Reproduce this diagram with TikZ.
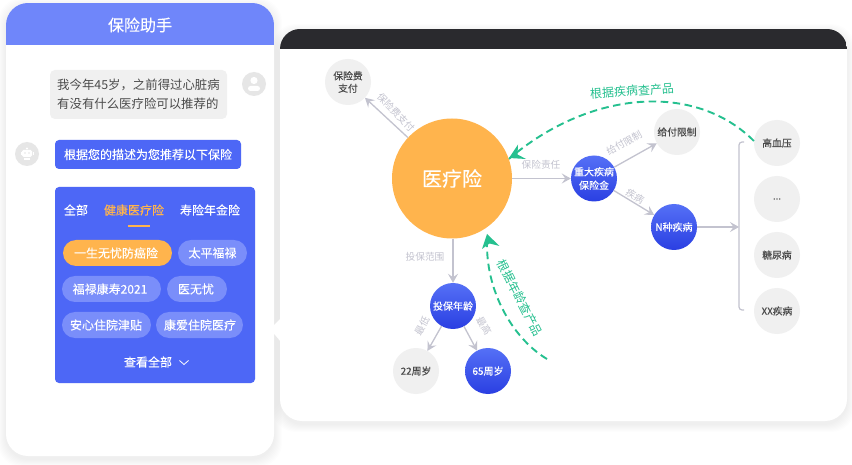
\documentclass[tikz,border=0pt]{standalone}
\usepackage{fontspec}
\setmainfont{Noto Sans CJK SC}
\newfontfamily\medfont[FakeBold=0.25]{Noto Sans CJK SC}
\usetikzlibrary{arrows.meta}
\definecolor{hdr}{HTML}{6F86FA}
\definecolor{cardblue}{HTML}{4D67F6}
\definecolor{pillblue}{HTML}{7A8EFA}
\definecolor{orng}{HTML}{FFB44D}
\definecolor{pale}{HTML}{F0F0F0}
\definecolor{avatar}{HTML}{E6E6E6}
\definecolor{gline}{HTML}{C3C3CF}
\definecolor{grn}{HTML}{25C08F}
\definecolor{dark}{HTML}{2A2A2E}
\definecolor{txt}{HTML}{4A4A4A}
\definecolor{bluetop}{HTML}{5570F6}
\definecolor{bluebot}{HTML}{2A3FE2}
\tikzset{
  x=1pt,y=-1pt,
  pilltext/.style={font=\medfont\fontsize{12}{12}\selectfont,text=white,inner sep=0pt},
  pale node/.style={circle,fill=pale,minimum size=46pt,inner sep=0pt,align=center,text=txt,font=\medfont\fontsize{9.8}{12.5}\selectfont},
  blue node/.style={circle,minimum size=46pt,inner sep=0pt,align=center,text=white,top color=bluetop,bottom color=bluebot,font=\medfont\fontsize{10}{13.5}\selectfont},
  link/.style={draw=gline,line width=1.3pt,-{Stealth[length=9pt,width=10pt,inset=3.5pt]}},
  linklabel/.style={text=gline,font=\fontsize{9.7}{11}\selectfont,inner sep=0pt},
  greenlink/.style={draw=grn,line width=1.9pt,dash pattern=on 7.5pt off 4.5pt},
  greenlabel/.style={text=grn,font=\fontsize{12}{12}\selectfont,inner sep=0pt},
  avatarnode/.style={circle,fill=avatar,minimum size=24pt,inner sep=0pt},
}
\begin{document}
\begin{tikzpicture}
\useasboundingbox (0,0) rectangle (852,465);
\fill[white] (0,0) rectangle (852,465);
% soft shadows
\foreach \d in {1,2,...,8}{
  \fill[black,opacity=.007,rounded corners=24pt] ({6-\d},{3-\d+3}) rectangle ({274+\d},{456+\d+3});
  \fill[black,opacity=.007,rounded corners=24pt] ({280-\d},{29-\d+3}) rectangle ({847+\d},{421+\d+3});
}
% left panel
\fill[white,rounded corners=22pt] (6,3) rectangle (274,456);
\begin{scope}
  \clip[rounded corners=22pt] (6,3) rectangle (274,456);
  \fill[hdr] (6,3) rectangle (274,45);
\end{scope}
% right panel
\fill[white,rounded corners=22pt] (280,29) rectangle (847,421);
\begin{scope}
  \clip[rounded corners=20pt] (280,29) rectangle (847,421);
  \fill[dark] (280,29) rectangle (847,49);
\end{scope}
\fill[white] (270,329) -- (281,318) -- (281,342) -- cycle;
\node[text=white,font=\medfont\fontsize{16}{16}\selectfont,inner sep=0pt] (title) at (140,25) {保险助手};
% chat
\node[fill=pale,rounded corners=5pt,minimum width=177pt,minimum height=49pt,inner sep=0pt,align=left,text=txt,font=\fontsize{12.4}{18.5}\selectfont] (ask) at (138.5,94.5) {我今年45岁，之前得过心脏病\\有没有什么医疗险可以推荐的};
\node[avatarnode] (user) at (254,84) {};
\fill[white] (254,80.5) circle (3.6pt);
\fill[white,rounded corners=2.5pt] (248,86) rectangle (260,91);
\node[avatarnode] (bot) at (27,154) {};
\fill[white,rounded corners=1.5pt] (22,150) rectangle (32,157);
\fill[white] (27,148.5) circle (1.2pt);
\fill[white] (24,158) rectangle (30,160);
\fill[white] (20.5,152) rectangle (21.5,155);
\fill[white] (32.5,152) rectangle (33.5,155);
\fill[avatar] (25,153) circle (.8pt) (29,153) circle (.8pt);
\node[fill=cardblue,rounded corners=4pt,minimum width=186pt,minimum height=29pt,inner sep=0pt,text=white,font=\medfont\fontsize{12}{12}\selectfont] (reply) at (148,154.5) {根据您的描述为您推荐以下保险};
% card
\fill[cardblue,rounded corners=4pt] (55,187) rectangle (255,383);
\node[pilltext] (t1) at (76,210) {全部};
\node[pilltext,text=orng] (t2) at (134,210) {健康医疗险};
\node[pilltext] (t3) at (210,210) {寿险年金险};
\fill[orng] (128,225.2) rectangle (150,227);
\fill[orng,rounded corners=13pt] (63,240) rectangle (172,266);
\fill[pillblue,rounded corners=13pt] (178,240) rectangle (247,266);
\fill[pillblue,rounded corners=13pt] (62,276) rectangle (161,302);
\fill[pillblue,rounded corners=13pt] (167,276) rectangle (227,302);
\fill[pillblue,rounded corners=13pt] (62,312) rectangle (151,338);
\fill[pillblue,rounded corners=13pt] (156,312) rectangle (243,338);
\node[pilltext] (p1) at (116,253) {一生无忧防癌险};
\node[pilltext] (p2) at (212.5,253) {太平福禄};
\node[pilltext] (p3) at (110,289) {福禄康寿2021};
\node[pilltext] (p4) at (196,289) {医无忧};
\node[pilltext] (p5) at (106,325) {安心住院津贴};
\node[pilltext] (p6) at (200,325) {康爱住院医疗};
\node[pilltext] (more) at (148,362) {查看全部};
\draw[white,line width=.8pt] (179.5,360.5) -- (184,364.5) -- (188.5,360.5);
% graph nodes
\node[circle,fill=orng,minimum size=120pt,inner sep=0pt,text=white,font=\medfont\fontsize{20}{20}\selectfont] (main) at (452,178.5) {医疗险};
\node[pale node] (pay) at (348,82) {保险费\\支付};
\node[blue node] (crit) at (594,178.5) {重大疾病\\保险金};
\node[pale node] (limit) at (677,132) {给付限制};
\node[blue node] (nd) at (674,227) {N种疾病};
\node[pale node] (hyp) at (777,143) {高血压};
\node[pale node] (dots) at (777,199) {...};
\node[pale node] (dia) at (777,255) {糖尿病};
\node[pale node] (xx) at (777,311) {XX疾病};
\node[blue node] (age) at (453,306) {投保年龄};
\node[pale node] (y22) at (416,371) {22周岁};
\node[blue node] (y65) at (488,371) {65周岁};
% bracket
\coordinate (bt) at (744,142);
\coordinate (bb) at (744,310);
\coordinate (bm) at (739,227);
\draw[gline,line width=1.2pt,rounded corners=3pt] (bt) -- (739,142) -- (739,310) -- (bb);
% links
\draw[link] (main) -- (pay);
\draw[link] (main) -- (crit);
\draw[link] (crit) -- (limit);
\draw[link] (crit) -- (nd);
\draw[link] (nd) -- (bm);
\draw[link] (main.south -| age) -- (age);
\draw[link] (age) -- (y22);
\draw[link] (age) -- (y65);
% green
\coordinate (gs) at (547,359);
\draw[greenlink] (hyp.175) .. controls (695,82) and (590,90) .. (main.19);
\fill[grn] (509,158) -- (518,144.5) -- (517.5,154.5) -- (526,159) -- cycle;
\draw[greenlink] (gs) .. controls (515,340) and (487,295) .. (487,245);
\fill[grn] (487,234) -- (499.5,246) -- (489.5,243.5) -- (482,249) -- cycle;
% labels
\node[linklabel,rotate=-46] (l1) at (396,112) {保险费支付};
\node[linklabel] (l2) at (541,165) {保险责任};
\node[linklabel,rotate=29] (l3) at (624,143) {给付限制};
\node[linklabel,rotate=-30] (l4) at (635,196) {疾病};
\node[linklabel] (l5) at (425,257) {投保范围};
\node[linklabel,rotate=60] (l6) at (422,326) {最低};
\node[linklabel,rotate=-60] (l7) at (484,326) {最高};
\node[greenlabel,rotate=4] (g1) at (632,91) {根据疾病查产品};
\node[greenlabel,rotate=-63] (g2) at (520,298) {根据年龄查产品};
\end{tikzpicture}
\end{document}
